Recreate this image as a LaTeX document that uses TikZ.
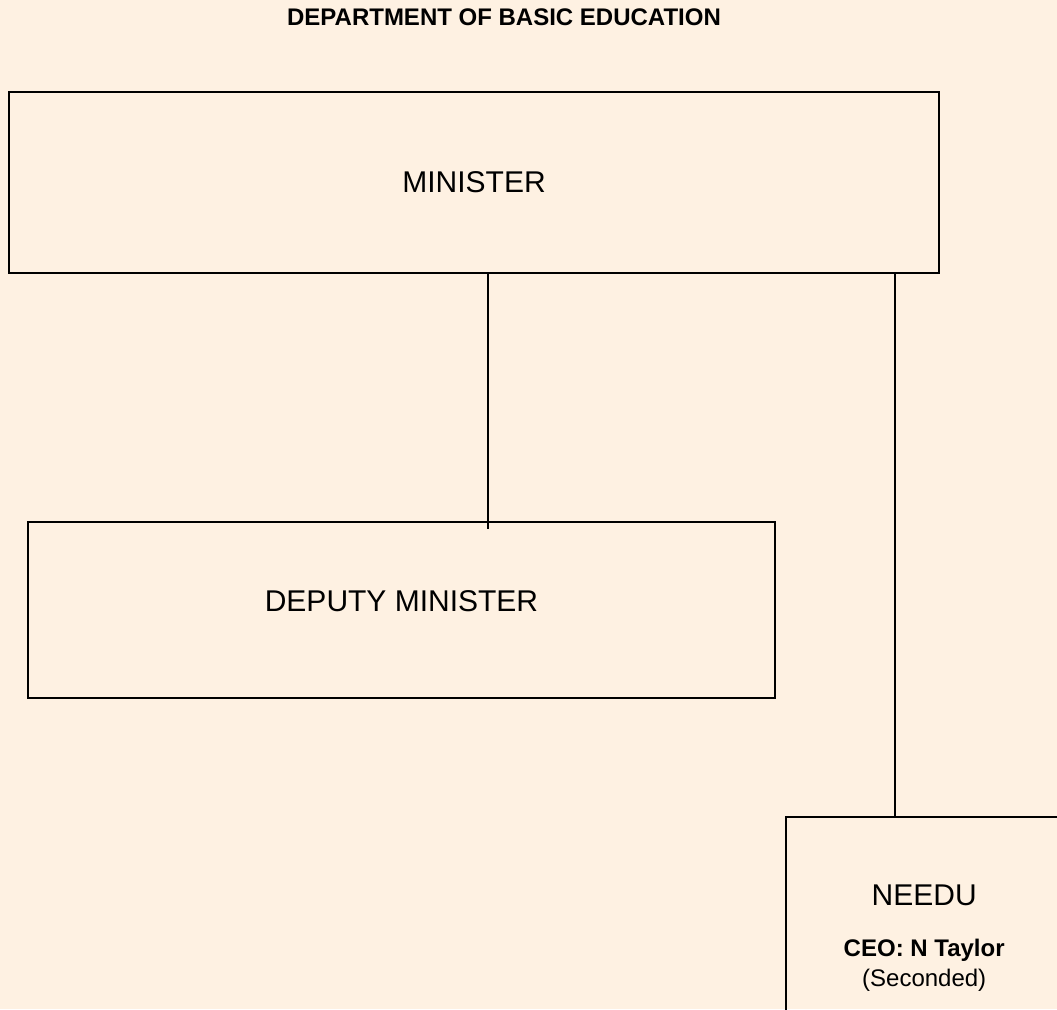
\documentclass[tikz,border=0pt]{standalone}
\usepackage{fontspec}
\setmainfont{Liberation Sans}
\usepackage{tikz}
\usetikzlibrary{calc}
\definecolor{creambg}{RGB}{254,241,226}

\begin{document}
\begin{tikzpicture}[x=0.5pt, y=-0.5pt,
                boxnode/.style={rectangle, draw=black, line width=1.2pt, inner sep=0pt, font=\fontsize{15}{18}\selectfont},
                titlenode/.style={inner sep=0pt, font=\fontsize{12}{14}\selectfont\bfseries},
                link/.style={draw=black, line width=0.7pt},
            ]
            %Background
            \fill[creambg] (0,0) rectangle (1057,1009);
            \clip (0,0) rectangle (1057,1009);

            %Nodes
            \node[titlenode]        (title)      at (504,17.5) {DEPARTMENT OF BASIC EDUCATION};
            \node[boxnode, minimum width=465pt, minimum height=90.5pt]      (minister)   at (474,182.5) {MINISTER};
            \node[boxnode, minimum width=373.5pt, minimum height=88pt, text depth=9pt]      (deputy)     at (401.5,610) {DEPUTY MINISTER};
            \node[boxnode, minimum width=138pt, minimum height=121pt, anchor=north west, align=center, font=\fontsize{12}{15}\selectfont]      (needu)      at (785,816)
                {{\fontsize{15}{18}\selectfont NEEDU}\\[10.5pt]\textbf{CEO: N Taylor}\\(Seconded)};

            %Lines
            \coordinate (deputyend) at (488,529);
            \coordinate (needuend)  at (895,818);
            \draw[link] (minister.south -| deputyend) -- (deputyend);
            \draw[link] (minister.south -| needuend) -- (needuend);
        \end{tikzpicture}
\end{document}
